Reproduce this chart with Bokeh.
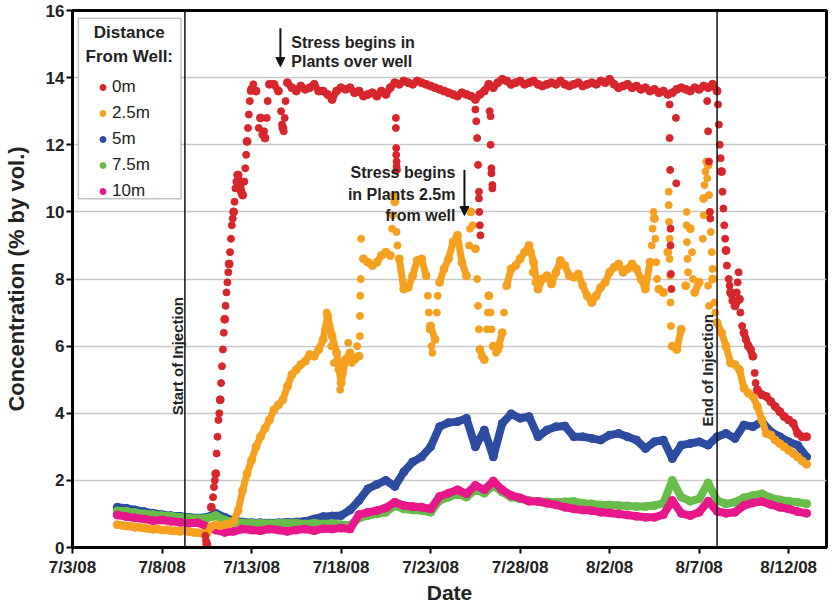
from datetime import datetime, timedelta
from bokeh.plotting import figure
from bokeh.models import (Legend, LegendItem, Label, Span, Arrow, NormalHead,
                          BoxAnnotation, FixedTicker, Range1d)
from bokeh.embed import file_html
from bokeh.resources import INLINE

# ---------------- data ----------------
BASE_DATE = datetime(2008, 7, 3)
TICK_LABELS = ["7/3/08", "7/8/08", "7/13/08", "7/18/08", "7/23/08",
               "7/28/08", "8/2/08", "8/7/08", "8/12/08"]
Y_TICKS = [0, 2, 4, 6, 8, 10, 12, 14, 16]
SERIES_NAMES = ["0m", "2.5m", "5m", "7.5m", "10m"]
SERIES_COLORS = ["#d8262d", "#f6a01f", "#2d4ca0", "#68bd4a", "#e8178b"]

INJECTION_START = datetime(2008, 7, 9, 6, 40)
INJECTION_END = datetime(2008, 8, 8, 0, 0)
X_END = datetime(2008, 8, 14, 2, 40)

# 0m : readings every 6 h from 7/10/08 12:00
RED_START = datetime(2008, 7, 10, 12, 0)
RED_STEP_H = 6
RED_VALUES = [
    0.1, 1.2,
    2.2, 4.4, 6.8, 8.45,
    10.0, 11.1, 10.5, 12.1,
    13.65, 13.6, 12.8, 12.2,
    13.8, 13.8, 13.6, 12.5,
    13.85, 13.7, 13.6, 13.75,
    13.65, 13.7, 13.8, 13.6,
    13.6, 13.5, 13.35, 13.6,
    13.7, 13.65, 13.7, 13.55,
    13.6, 13.45, 13.5, 13.55,
    13.45, 13.6, 13.5, 13.7,
    13.85, 13.8, 13.9, 13.85,
    13.8, 13.9, 13.85, 13.8,
    13.75, 13.7, 13.65, 13.6,
    13.55, 13.5, 13.45, 13.55,
    13.5, 13.45, 13.35, 13.5,
    13.6, 13.8, 13.7, 13.85,
    13.95, 13.9, 13.8, 13.85,
    13.9, 13.8, 13.85, 13.9,
    13.8, 13.75, 13.8, 13.85,
    13.8, 13.9, 13.8, 13.75,
    13.8, 13.85, 13.75, 13.8,
    13.85, 13.8, 13.9, 13.85,
    13.95, 13.8, 13.7, 13.75,
    13.8, 13.7, 13.75, 13.65,
    13.7, 13.6, 13.65, 13.55,
    13.6, 13.5, 13.55, 13.65,
    13.7, 13.65, 13.6, 13.7,
    13.65, 13.75, 13.7, 13.8,
    13.6, 11.2, 8.85, 7.6,
    7.2, 7.4, 6.4, 6.0,
    5.7, 4.7, 4.55, 4.5,
    4.35, 4.2, 4.05, 3.9,
    3.8, 3.7, 3.4, 3.3,
    3.3,
]
# 0m : extra hourly readings (rise, dropouts, fall) - days after 7/3/08
RED_EXTRA_DAY = [
    7.42, 7.46, 7.85, 7.9, 7.95, 8.05, 8.1, 8.15, 8.2, 8.3, 8.35, 8.4, 8.45,
    8.55, 8.6, 8.65, 8.7, 8.8, 8.85, 8.9, 8.95, 9.05, 9.1, 9.15, 9.2, 9.35,
    9.4, 9.6, 9.65, 9.7, 9.8, 9.85, 9.9, 9.95, 10.1, 10.4, 10.6, 10.7, 10.85,
    10.9, 11.65, 11.7, 11.8, 11.85, 11.9,
    18.06, 18.06, 18.08, 18.08, 18.1, 18.1, 18.12,
    22.5, 22.55, 22.6, 22.65, 22.7, 22.7, 22.72, 22.75, 22.78,
    23.3, 23.35, 23.35, 23.4, 23.4, 23.45, 23.45,
    33.35, 33.35, 33.38, 33.7, 33.72, 33.4, 33.4, 33.42, 33.45,
    35.45, 35.5, 35.55, 35.6, 35.62,
    36.05, 36.1, 36.15, 36.2, 36.3, 36.35, 36.4, 36.45, 36.55, 36.65, 36.7,
    36.85, 37.1, 37.15, 37.2, 37.3, 37.4, 37.6, 37.9, 38.1, 38.15,
]
RED_EXTRA_VAL = [
    0.35, 0.2, 1.5, 1.8, 2.0, 2.8, 3.3, 3.8, 4.0, 4.9, 5.4, 5.9, 6.4,
    7.2, 7.6, 7.9, 8.2, 8.8, 9.2, 9.6, 9.8, 10.3, 10.7, 10.9, 11.1, 10.9,
    10.6, 10.9, 11.3, 11.7, 12.5, 12.9, 13.3, 13.6, 13.8, 12.5, 12.3, 12.4, 12.8,
    13.3, 13.0, 12.6, 12.4, 12.8, 13.3,
    12.8, 12.5, 11.9, 11.7, 11.5, 11.35, 11.25,
    13.05, 12.7, 12.2, 11.4, 10.6, 10.4, 10.0, 9.6, 9.3,
    13.0, 12.85, 12.0, 11.3, 11.15, 10.8, 10.7,
    13.2, 12.2, 11.25, 12.8, 10.85, 9.5, 9.0, 8.15, 7.7,
    13.3, 12.4, 11.5, 10.0, 9.8,
    13.2, 12.6, 12.0, 11.6, 10.6, 10.1, 9.6, 9.2, 8.4, 8.0, 7.8,
    7.35, 7.6, 7.9, 8.2, 7.0, 6.6, 6.2, 5.9, 5.2, 4.9,
]

# 2.5m : readings every 6 h from 7/5/08 12:00
ORANGE_START = datetime(2008, 7, 5, 12, 0)
ORANGE_STEP_H = 6
ORANGE_VALUES = [
    0.68, 0.66,
    0.64, 0.63, 0.6, 0.6,
    0.58, 0.56, 0.54, 0.55,
    0.52, 0.53, 0.5, 0.5,
    0.48, 0.5, 0.47, 0.45,
    0.44, 0.42, 0.42, 0.62,
    0.68, 0.65, 0.68, 0.7,
    0.78, 1.1, 1.7, 2.2,
    2.6, 3.0, 3.3, 3.55,
    3.8, 4.1, 4.25, 4.4,
    4.8, 5.15, 5.3, 5.45,
    5.55, 5.75, 5.7, 5.9,
    6.2, 6.9, 6.3, 5.8,
    4.9, 5.6, 5.8, 5.6,
    5.7, 8.6, 8.5, 8.4,
    8.5, 8.7, 8.8, 8.7,
    10.3, 8.6, 7.7, 7.75,
    8.1, 8.55, 8.6, 8.1,
    6.6, 6.2, 7.9, 8.3,
    8.6, 9.1, 9.3, 8.5,
    8.1, 10.0, 8.9, 5.9,
    5.6, 7.5, 6.0, 5.9,
    6.4, 7.8, 8.3, 8.4,
    8.6, 8.8, 9.0, 8.5,
    7.7, 8.0, 8.1, 7.85,
    8.2, 8.55, 8.4, 8.1,
    8.05, 8.15, 7.8, 7.5,
    7.3, 7.5, 7.75, 7.9,
    8.2, 8.35, 8.45, 8.2,
    8.3, 8.45, 8.3, 8.0,
    7.7, 8.5, 9.8, 7.7,
    7.6, 8.8, 6.0, 5.9,
    6.5, 7.8, 9.5, 7.6,
    7.9, 10.4, 11.4, 8.0,
    6.7, 6.4, 6.0, 5.5,
    5.45, 5.3, 4.75, 4.6,
    4.5, 4.2, 3.8, 3.4,
    3.35, 3.2, 3.1, 3.0,
    2.9, 2.8, 2.7, 2.58,
    2.48,
]
# 2.5m : extra hourly readings (spikes) - days after 7/3/08
ORANGE_EXTRA_DAY = [
    14.1, 14.2, 14.3, 14.45, 14.6, 14.85, 14.95, 15.1, 15.4, 15.6, 15.9,
    16.05, 16.05, 16.07, 16.1, 16.12,
    17.85, 17.9, 17.95, 18.1, 18.15,
    19.85, 19.9, 19.95, 20.05, 20.1, 20.35, 20.4,
    22.15, 22.2, 22.35, 22.6, 22.65, 22.7, 22.85, 23.15, 23.2, 23.35, 23.4,
    23.65, 23.85, 24.1,
    25.6, 25.7, 25.85,
    32.35, 32.4, 32.45, 32.55, 32.6, 32.65,
    33.3, 33.3, 33.32, 33.35, 33.35, 33.38, 33.4, 33.42,
    34.3, 34.3, 34.32, 34.35, 34.38, 34.6, 34.65, 34.9,
    35.2, 35.25, 35.3, 35.35, 35.4, 35.45, 35.55, 35.6, 35.65, 35.7, 35.75,
    35.5, 35.55, 35.85, 35.9,
]
ORANGE_EXTRA_VAL = [
    6.5, 7.0, 6.7, 6.0, 5.5, 5.3, 4.7, 5.2, 6.1, 5.5, 6.0,
    6.3, 6.9, 7.5, 8.0, 9.2,
    9.5, 9.9, 10.5, 9.4, 9.0,
    7.5, 7.0, 6.5, 6.0, 5.8, 7.0, 7.5,
    9.0, 9.5, 9.6, 8.0, 7.2, 6.5, 5.7, 6.5, 7.0, 7.0, 6.5,
    5.8, 6.0, 7.0,
    8.8, 8.2, 7.9,
    9.0, 9.5, 10.0, 9.2, 8.5, 8.0,
    10.6, 10.2, 9.7, 9.2, 8.6, 8.1, 7.3, 6.6,
    10.0, 9.6, 9.1, 8.6, 8.2, 8.8, 8.0, 7.8,
    9.2, 9.9, 10.8, 11.2, 11.5, 11.0, 10.5, 10.0, 9.4, 8.8, 8.3,
    7.8, 7.2, 7.3, 7.0,
]

# 5m, 7.5m, 10m : readings every 12 h from 7/5/08 12:00
LOW_START = datetime(2008, 7, 5, 12, 0)
LOW_STEP_H = 12
BLUE_VALUES = [
    1.20, 1.17, 1.12, 1.07, 1.02, 0.98, 0.95, 0.93, 0.90, 0.88,
    0.90, 1.02, 0.90, 0.80, 0.76, 0.74, 0.74, 0.73, 0.74, 0.75,
    0.76, 0.78, 0.85, 0.92, 0.94, 0.95, 1.12, 1.40, 1.75, 1.88,
    2.0, 1.82, 2.25, 2.55, 2.7, 3.0, 3.6, 3.72, 3.75, 3.85,
    3.0, 3.5, 2.7, 3.7, 3.98, 3.85, 3.9, 3.3, 3.5, 3.6,
    3.62, 3.3, 3.3, 3.25, 3.2, 3.35, 3.4, 3.3, 3.2, 2.95,
    3.15, 3.2, 2.65, 3.05, 3.1, 3.15, 3.05, 3.3, 3.4, 3.25,
    3.65, 3.6, 3.75, 3.45, 3.3, 3.15, 3.05, 2.7,
]
GREEN_VALUES = [
    1.09, 1.08, 1.04, 1.0, 0.98, 0.95, 0.93, 0.9, 0.88, 0.86,
    0.87, 0.95, 0.82, 0.75, 0.73, 0.72, 0.72, 0.71, 0.72, 0.72,
    0.72, 0.70, 0.72, 0.70, 0.72, 0.68, 0.66, 0.88, 0.95, 1.0,
    1.05, 1.25, 1.15, 1.12, 1.10, 1.05, 1.40, 1.5, 1.6, 1.5,
    1.72, 1.62, 1.85, 1.65, 1.5, 1.45, 1.4, 1.38, 1.36, 1.35,
    1.36, 1.37, 1.32, 1.3, 1.27, 1.27, 1.25, 1.24, 1.22, 1.22,
    1.25, 1.32, 2.0, 1.5, 1.38, 1.45, 1.92, 1.4, 1.3, 1.35,
    1.48, 1.55, 1.6, 1.48, 1.42, 1.38, 1.35, 1.3,
]
MAGENTA_VALUES = [
    0.97, 0.92, 0.88, 0.85, 0.80, 0.82, 0.78, 0.75, 0.72, 0.74,
    0.62, 0.52, 0.45, 0.48, 0.55, 0.52, 0.50, 0.55, 0.52, 0.48,
    0.52, 0.55, 0.50, 0.56, 0.55, 0.58, 0.55, 0.98, 1.05, 1.10,
    1.18, 1.35, 1.25, 1.22, 1.20, 1.15, 1.52, 1.62, 1.72, 1.6,
    1.85, 1.72, 1.98, 1.72, 1.55, 1.48, 1.38, 1.37, 1.32, 1.27,
    1.2, 1.15, 1.12, 1.1, 1.05, 1.03, 1.0, 0.97, 0.93, 0.9,
    0.9, 0.98, 1.4, 1.02, 0.95, 1.05, 1.38, 1.08, 1.02, 1.05,
    1.25, 1.33, 1.37, 1.28, 1.2, 1.15, 1.07, 1.02,
]


# ---------------- helpers ----------------
def days(dt):
    return (dt - BASE_DATE).total_seconds() / 86400.0


def sample_days(start, step_h, n):
    return [days(start + timedelta(hours=step_h * i)) for i in range(n)]


def connected_runs(xs, ys, max_jump):
    """Split a series into runs where consecutive readings are close (for drawing)."""
    runs_x, runs_y = [[xs[0]]], [[ys[0]]]
    for i in range(1, len(xs)):
        if abs(ys[i] - ys[i - 1]) <= max_jump:
            runs_x[-1].append(xs[i])
            runs_y[-1].append(ys[i])
        else:
            runs_x.append([xs[i]])
            runs_y.append([ys[i]])
    return runs_x, runs_y


FONT = "Liberation Sans"

p = figure(width=838, height=606, output_backend="svg", toolbar_location=None,
           x_range=Range1d(0, days(X_END)), y_range=Range1d(0, 16),
           min_border_left=68, min_border_right=12, min_border_top=10,
           min_border_bottom=51)
p.background_fill_color = "white"
p.border_fill_color = "white"
p.outline_line_color = "black"
p.outline_line_width = 3

# axes
tick_pos = [round(days(datetime.strptime(t, "%m/%d/%y"))) for t in TICK_LABELS]
p.xaxis.ticker = FixedTicker(ticks=tick_pos)
p.xaxis.major_label_overrides = {tp: lab for tp, lab in zip(tick_pos, TICK_LABELS)}
p.yaxis.ticker = FixedTicker(ticks=Y_TICKS)
p.xaxis.axis_label = "Date"
p.yaxis.axis_label = "Concentration (% by vol.)"
for ax in (p.xaxis[0], p.yaxis[0]):
    ax.axis_line_width = 3
    ax.axis_line_color = "black"
    ax.major_tick_line_width = 2
    ax.major_tick_out = 6
    ax.major_tick_in = 0
    ax.minor_tick_line_color = None
    ax.major_label_text_font = FONT
    ax.major_label_text_font_style = "bold"
    ax.major_label_text_font_size = "17px"
    ax.major_label_text_color = "#222222"
    ax.axis_label_text_font = FONT
    ax.axis_label_text_font_style = "bold"
    ax.axis_label_text_color = "#222222"
p.xaxis.major_label_standoff = 4
p.yaxis.major_label_standoff = 2
p.xaxis.axis_label_standoff = 1
p.yaxis.axis_label_standoff = 14
p.xaxis.axis_label_text_font_size = "21px"
p.yaxis.axis_label_text_font_size = "22px"
p.xgrid.grid_line_color = None
p.ygrid.grid_line_color = "#c8c8c8"
p.ygrid.grid_line_width = 1.5

# series
red_x = sample_days(RED_START, RED_STEP_H, len(RED_VALUES))
orange_x = sample_days(ORANGE_START, ORANGE_STEP_H, len(ORANGE_VALUES))
low_x = sample_days(LOW_START, LOW_STEP_H, len(BLUE_VALUES))

renderers = {}
for vals, name, col in ((BLUE_VALUES, "5m", SERIES_COLORS[2]),
                        (GREEN_VALUES, "7.5m", SERIES_COLORS[3]),
                        (MAGENTA_VALUES, "10m", SERIES_COLORS[4])):
    p.line(low_x, vals, line_color=col, line_width=8, line_join="round", line_cap="round")
    renderers[name] = p.scatter(low_x, vals, marker="circle", size=8,
                                fill_color=col, line_color=col)

ox, oy = connected_runs(orange_x, ORANGE_VALUES, 0.9)
p.multi_line(ox, oy, line_color=SERIES_COLORS[1], line_width=7,
             line_join="round", line_cap="round")
renderers["2.5m"] = p.scatter(orange_x, ORANGE_VALUES, marker="circle", size=8,
                              fill_color=SERIES_COLORS[1], line_color=SERIES_COLORS[1])
p.scatter(ORANGE_EXTRA_DAY, ORANGE_EXTRA_VAL, marker="circle", size=7,
          fill_color=SERIES_COLORS[1], line_color=SERIES_COLORS[1])

rx, ry = connected_runs(red_x, RED_VALUES, 0.6)
p.multi_line(rx, ry, line_color=SERIES_COLORS[0], line_width=7,
             line_join="round", line_cap="round")
renderers["0m"] = p.scatter(red_x, RED_VALUES, marker="circle", size=8,
                            fill_color=SERIES_COLORS[0], line_color=SERIES_COLORS[0])
p.scatter(RED_EXTRA_DAY, RED_EXTRA_VAL, marker="circle", size=7,
          fill_color=SERIES_COLORS[0], line_color=SERIES_COLORS[0])

# injection lines and labels
for dt, txt, lx, ly in ((INJECTION_START, "Start of Injection", 5.86, 5.70),
                        (INJECTION_END, "End of Injection", 35.44, 5.28)):
    p.add_layout(Span(location=days(dt), dimension="height",
                      line_color="#111111", line_width=1.5))
    p.add_layout(Label(x=lx, y=ly, text=txt, angle=1.5708, text_align="center",
                       text_baseline="middle", text_font=FONT, text_font_style="bold",
                       text_font_size="15px", text_color="#222222"))

# stress annotations
for line_txt, yy in (("Stress begins in", 15.06), ("Plants over well", 14.47)):
    p.add_layout(Label(x=12.22, y=yy, text=line_txt, text_align="left",
                       text_baseline="middle", text_font=FONT, text_font_style="bold",
                       text_font_size="16px", text_color="#222222"))
for line_txt, yy in (("Stress begins", 11.16), ("in Plants 2.5m", 10.51), ("from well", 9.89)):
    p.add_layout(Label(x=21.39, y=yy, text=line_txt, text_align="right",
                       text_baseline="middle", text_font=FONT, text_font_style="bold",
                       text_font_size="16px", text_color="#222222"))
for xs, ys, ye in ((11.61, 15.47, 14.33), (21.89, 11.25, 9.89)):
    p.add_layout(Arrow(end=NormalHead(size=9, fill_color="#111111", line_color="#111111"),
                       x_start=xs, y_start=ys, x_end=xs, y_end=ye,
                       line_color="#111111", line_width=2))

# legend box + title
p.add_layout(BoxAnnotation(left=0.33, right=6.06, bottom=10.39, top=15.77,
                           fill_color="white", fill_alpha=1.0,
                           line_color="#333333", line_width=1.5, level="annotation"))
for t, yy in (("Distance", 15.33), ("From Well:", 14.62)):
    p.add_layout(Label(x=3.17, y=yy, text=t, text_align="center", text_baseline="middle",
                       text_font=FONT, text_font_style="bold", text_font_size="17px",
                       text_color="#222222"))

legend = Legend(items=[LegendItem(label=n, renderers=[renderers[n]]) for n in SERIES_NAMES],
                location=(23, 346), margin=0, padding=0, spacing=6,
                glyph_width=15, glyph_height=20, label_height=20, label_standoff=2,
                label_text_font=FONT, label_text_font_size="17px",
                label_text_color="#222222", label_text_baseline="middle",
                background_fill_alpha=0, border_line_color=None)
p.add_layout(legend)

open("out.html", "w").write(file_html(p, INLINE))
